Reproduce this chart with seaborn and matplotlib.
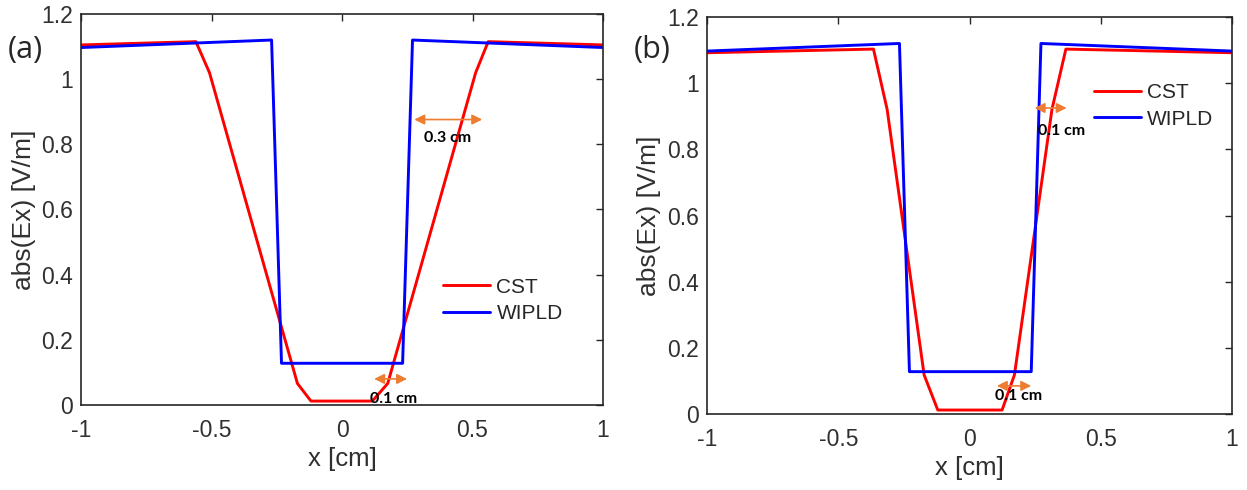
import pandas as pd
import matplotlib
matplotlib.use("Agg")
import matplotlib.pyplot as plt
import seaborn as sns

# Panel (a) data
a_cst_x = [-1.0, -0.56, -0.508, -0.171, -0.119, 0.0, 0.116, 0.175, 0.512, 0.56, 1.0]
a_cst_y = [1.105, 1.115, 1.02, 0.066, 0.012, 0.012, 0.012, 0.066, 1.02, 1.115, 1.105]
a_wip_x = [-1.0, -0.27, -0.232, 0.0, 0.232, 0.27, 1.0]
a_wip_y = [1.097, 1.12, 0.128, 0.128, 0.128, 1.12, 1.097]

# Panel (b) data
b_cst_x = [-1.0, -0.366, -0.314, -0.173, -0.121, 0.0, 0.124, 0.171, 0.314, 0.367, 1.0]
b_cst_y = [1.092, 1.103, 0.921, 0.118, 0.012, 0.012, 0.012, 0.118, 0.921, 1.103, 1.092]
b_wip_x = [-1.0, -0.267, -0.229, 0.0, 0.235, 0.272, 1.0]
b_wip_y = [1.097, 1.12, 0.128, 0.128, 0.128, 1.12, 1.097]

x_ticks = [-1, -0.5, 0, 0.5, 1]
y_ticks = [0, 0.2, 0.4, 0.6, 0.8, 1, 1.2]
x_tick_labels = ["-1", "-0.5", "0", "0.5", "1"]
y_tick_labels = ["0", "0.2", "0.4", "0.6", "0.8", "1", "1.2"]

# annotations: (x_start, x_end, y_arrow, text, text_x, text_y)
a_notes = [(0.277, 0.537, 0.876, "0.3 cm", 0.403, 0.82),
           (0.123, 0.249, 0.08, "0.1 cm", 0.198, 0.018)]
b_notes = [(0.248, 0.370, 0.925, "0.1 cm", 0.351, 0.855),
           (0.104, 0.235, 0.085, "0.1 cm", 0.187, 0.055)]

sns.set_style("white")
plt.rcParams['font.family'] = ['Liberation Sans', 'DejaVu Sans']
plt.rcParams['axes.unicode_minus'] = False

fig = plt.figure(figsize=(12.47, 4.90), dpi=100)
ax_a = fig.add_axes([0.0650, 0.1735, 0.4186, 0.7980])
ax_b = fig.add_axes([0.5670, 0.1551, 0.4210, 0.8102])

text_col = "#303030"


def draw_panel(ax, cst_x, cst_y, wip_x, wip_y, notes, leg_anchor):
    df = pd.concat([
        pd.DataFrame({"x": cst_x, "y": cst_y, "src": "CST"}),
        pd.DataFrame({"x": wip_x, "y": wip_y, "src": "WIPLD"}),
    ])
    sns.lineplot(data=df, x="x", y="y", hue="src", sort=False, estimator=None,
                 palette={"CST": "#ff0000", "WIPLD": "#0000ff"}, linewidth=2.1, ax=ax)
    ax.set_xlim(-1, 1)
    ax.set_ylim(0, 1.2)
    ax.set_xticks(x_ticks)
    ax.set_xticklabels(x_tick_labels)
    ax.set_yticks(y_ticks)
    ax.set_yticklabels(y_tick_labels)
    ax.tick_params(direction="in", top=True, right=True, length=5, width=1,
                   color="#262626", labelsize=16.5, labelcolor=text_col)
    ax.tick_params(axis="x", pad=10)
    ax.tick_params(axis="y", pad=6)
    for s in ax.spines.values():
        s.set_color("#262626")
        s.set_linewidth(1.2)
    ax.set_xlabel("x [cm]", fontsize=18.5, color=text_col, labelpad=4)
    ax.set_ylabel("abs(Ex) [V/m]", fontsize=19, color=text_col)
    ax.yaxis.set_label_coords(-0.087, 0.5)
    ax.legend(loc="center left", bbox_to_anchor=leg_anchor, frameon=False,
              fontsize=15, handlelength=2.25, handletextpad=0.3, borderpad=0,
              borderaxespad=0, labelspacing=0.35)
    for x0, x1, ya, txt, tx, ty in notes:
        ax.annotate("", xy=(x1, ya), xytext=(x0, ya),
                    arrowprops=dict(arrowstyle="<|-|>", color="#ed7d31", lw=1.2,
                                    mutation_scale=15, shrinkA=0, shrinkB=0))
        ax.text(tx, ty, txt, ha="center", va="center", fontsize=11.5,
                fontweight="bold", family=["Lato", "DejaVu Sans"], color="black")


draw_panel(ax_a, a_cst_x, a_cst_y, a_wip_x, a_wip_y, a_notes, (0.694, 0.268))
draw_panel(ax_b, b_cst_x, b_cst_y, b_wip_x, b_wip_y, b_notes, (0.7375, 0.776))

fig.text(0.006, 0.898, "(a)", fontsize=22, va="center", ha="left",
         family=["Open Sans", "DejaVu Sans"])
fig.text(0.508, 0.898, "(b)", fontsize=22, va="center", ha="left",
         family=["Open Sans", "DejaVu Sans"])

fig.savefig("out.png", dpi=100)
